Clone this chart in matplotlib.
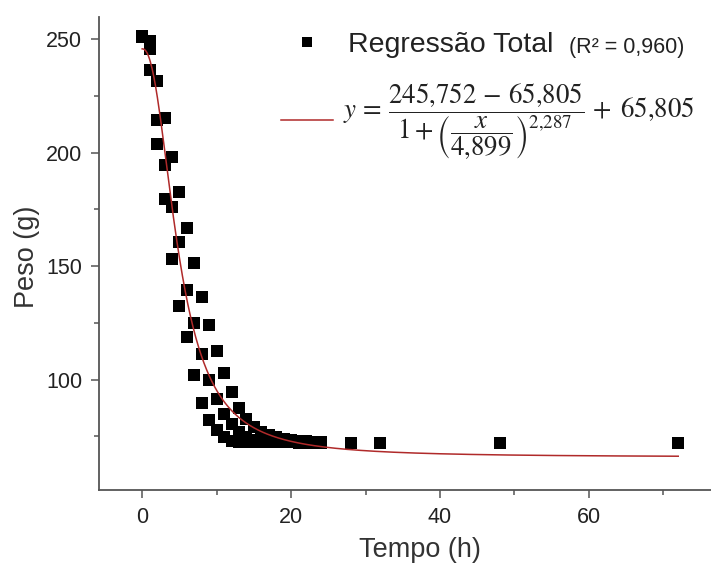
import numpy as np
import matplotlib
matplotlib.use("Agg")
import matplotlib.pyplot as plt
from matplotlib.ticker import MultipleLocator

plt.rcParams['font.family'] = ['Liberation Sans', 'DejaVu Sans']
plt.rcParams['mathtext.fontset'] = 'stix'

# ---- data ----
times = [0, 1, 2, 3, 4, 5, 6, 7, 8, 9, 10, 11, 12, 13, 14, 15, 16, 17, 18,
         19, 20, 21, 22, 23, 24]
rep_high = [251.5, 249.2, 231.4, 215.2, 198.2, 182.7, 166.7, 151.5, 136.2,
            123.9, 112.5, 102.8, 94.5, 87.4, 82.5, 79.0, 76.8, 75.4, 74.5,
            73.8, 73.3, 73.0, 72.8, 72.6, 72.5]
rep_mid = [251.5, 245.6, 214.3, 194.7, 176.1, 160.8, 139.4, 124.9, 111.1,
           99.9, 91.5, 84.8, 80.2, 76.8, 74.6, 73.5, 73.0, 72.8, 72.6, 72.5,
           72.4, 72.4, 72.3, 72.3, 72.2]
rep_low = [251.0, 236.4, 204.0, 179.6, 153.0, 132.4, 118.7, 102.2, 89.7,
           82.0, 77.6, 74.7, 72.8, 72.6, 72.6, 72.5, 72.5, 72.4, 72.4, 72.3,
           72.3, 72.2, 72.2, 72.2, 72.2]
late_times = [28, 32, 48, 72]
late_values = [72.0, 72.0, 72.0, 72.0]

# fitted logistic parameters shown in the chart
fit_top = 245.752
fit_bottom = 65.805
fit_x0 = 4.899
fit_p = 2.287
fit_x_range = (0, 72)

xticks = [0, 20, 40, 60]
yticks = [100, 150, 200, 250]

# ---- figure ----
W, H = 711, 565
fig = plt.figure(figsize=(W / 100, H / 100), dpi=100)
ax = fig.add_axes([99 / W, 75 / H, (W - 99) / W, 473 / H])

all_t = times * 3 + late_times
all_v = rep_high + rep_mid + rep_low + late_values
ax.plot(all_t, all_v, linestyle='none', marker='s', ms=8, mfc='black',
        mec='black', mew=0, zorder=2)

xf = np.linspace(fit_x_range[0], fit_x_range[1], 600)
yf = (fit_top - fit_bottom) / (1 + (xf / fit_x0) ** fit_p) + fit_bottom
ax.plot(xf, yf, color='#b02a2a', lw=1.1, zorder=3)

ax.set_xlim(-5.8, 76.4)
ax.set_ylim(51.3, 259.8)
ax.set_xticks(xticks)
ax.set_yticks(yticks)
ax.xaxis.set_minor_locator(MultipleLocator(10))
ax.yaxis.set_minor_locator(MultipleLocator(25))

for s in ['top', 'right']:
    ax.spines[s].set_visible(False)
for s in ['left', 'bottom']:
    ax.spines[s].set_color('#555555')
    ax.spines[s].set_linewidth(1.3)

ax.tick_params(which='major', length=6, width=1.1, color='#555555',
               labelsize=15.5, pad=6, labelcolor='#222222')
ax.tick_params(which='minor', length=3.5, width=1.1, color='#555555')

ax.set_xlabel('Tempo (h)', fontsize=19.5, color='#333333')
ax.set_ylabel('Peso (g)', fontsize=19.5, color='#333333')
ax.xaxis.set_label_coords((420 - 99) / (W - 99), -(550 - 490) / 473)
ax.yaxis.set_label_coords(-(99 - 27) / (W - 99), (490 - 257) / 473)
ax.xaxis.label.set_va('center')
ax.yaxis.label.set_va('center')

# ---- legend (drawn manually) ----
def fx(px):
    return px / W

def fy(py):
    return 1 - py / H

fig.add_artist(plt.Line2D([fx(307)], [fy(42)], marker='s', ms=7,
                          color='black', mew=0, linestyle='none'))
fig.text(fx(348), fy(45), 'Regressão Total', fontsize=20.5, color='#222222',
         va='center', ha='left')
fig.text(fx(569), fy(47), '(R² = 0,960)', fontsize=15.5, color='#222222',
         va='center', ha='left')

fig.add_artist(plt.Line2D([fx(281), fx(333)], [fy(120), fy(120)],
                          color='#b02a2a', lw=1.1))
eq = (r'$y\,=\,\dfrac{245{,}752\,-\,65{,}805}'
      r'{1+\left(\dfrac{x}{4{,}899}\right)^{2{,}287}}\,+\;65{,}805$')
fig.text(fx(343), fy(122), eq, fontsize=19.4, color='#222222',
         va='center', ha='left')

fig.savefig('out.png', dpi=100)
